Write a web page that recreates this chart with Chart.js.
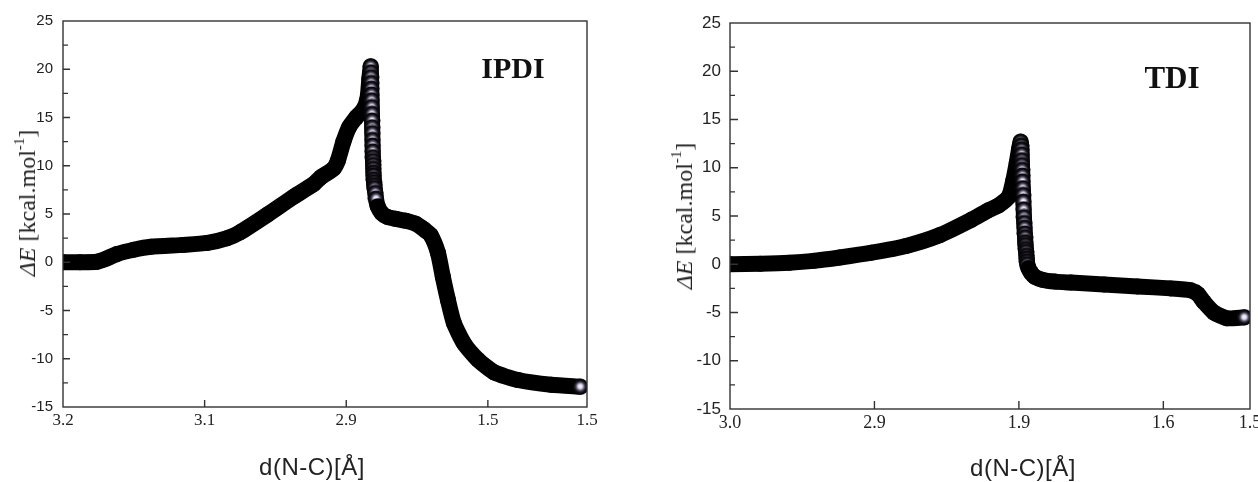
<!DOCTYPE html>
<html><head><meta charset="utf-8">
<script src="https://cdn.jsdelivr.net/npm/chart.js@4/dist/chart.umd.min.js"></script>
<style>
html,body{margin:0;padding:0;background:#fff;width:1258px;height:482px;overflow:hidden;position:relative}
.box{position:absolute;top:0;height:482px}
.ytitle{position:absolute;font-family:'Liberation Serif','Times New Roman',serif;font-size:24px;line-height:1;color:#222;white-space:nowrap;transform:translate(-50%,-50%) rotate(-90deg)}
.ytitle sup{font-size:15px;line-height:0;position:relative;top:-2px}
.xtitle{position:absolute;font-family:'Liberation Sans',Arial,sans-serif;font-size:24px;line-height:1;letter-spacing:0.5px;color:#222;white-space:nowrap;transform:translate(-50%,-50%)}
.tag{position:absolute;font-family:'Liberation Serif','Times New Roman',serif;font-weight:bold;color:#111;white-space:nowrap;transform:translateX(-50%);line-height:1}
</style></head>
<body>
<div class="box" style="left:0;width:640px"><canvas id="cl"></canvas></div>
<div class="box" style="left:640px;width:618px"><canvas id="cr"></canvas></div>
<div class="ytitle" style="left:27px;top:203px"><i>ΔE</i> [kcal.mol<sup>-1</sup>]</div>
<div class="ytitle" style="left:684px;top:216px"><i>ΔE</i> [kcal.mol<sup>-1</sup>]</div>
<div class="xtitle" style="left:312px;top:467px">d(N-C)[Å]</div>
<div class="xtitle" style="left:1023px;top:468px">d(N-C)[Å]</div>
<div class="tag" style="left:513px;top:53px;font-size:30px">IPDI</div>
<div class="tag" style="left:1172px;top:62px;font-size:31px">TDI</div>
<script>
// ---- data ----
const ipdiCoord = [0.00,0.12,0.24,0.31,0.38,0.50,0.62,0.85,1.02,1.16,1.25,1.44,1.63,1.77,1.82,1.91,1.94,1.98,2.02,2.07,2.12,2.15,2.163,2.173,
  2.174,2.175,2.176,2.177,2.178,2.179,2.180,2.181,2.182,2.183,2.184,2.185,2.186,2.187,2.188,2.189,2.190,2.191,2.192,2.193,2.194,2.196,2.198,2.200,
  2.205,2.210,2.222,2.25,2.29,2.35,2.42,2.49,2.55,2.597,2.647,2.682,2.718,2.760,2.831,2.930,3.043,3.213,3.447,3.652];
const ipdiEnergy = [0.0,0.0,0.05,0.4,0.85,1.3,1.6,1.8,2.0,2.5,3.1,4.9,6.8,8.1,8.8,9.7,10.5,12.5,14.0,15.0,15.8,17.0,19.0,20.3,
  19.7,19.2,18.6,18.0,17.4,16.8,16.1,15.4,14.7,14.0,13.4,12.7,12.1,11.5,10.9,10.5,10.1,9.7,9.3,9.0,8.6,8.3,8.0,7.7,
  7.2,6.6,5.8,5.1,4.7,4.5,4.3,4.0,3.4,2.8,1.0,-1.5,-3.9,-6.3,-8.4,-10.1,-11.4,-12.2,-12.7,-12.9];
const ipdiTickAt = [0,1,2,3,3.7];
const ipdiTickLabels = ['3.2','3.1','2.9','1.5','1.5'];

const tdiCoord = [0.00,0.21,0.41,0.58,0.76,0.98,1.22,1.45,1.67,1.79,1.86,1.93,1.96,1.985,2.002,2.012,
  2.016,2.018,2.019,2.020,2.021,2.022,2.024,2.025,2.027,2.029,2.031,2.033,2.035,2.037,2.039,2.041,2.043,2.044,2.046,2.048,2.050,2.052,2.054,2.056,2.058,
  2.066,2.085,2.11,2.16,2.25,2.36,2.59,2.82,3.05,3.19,3.24,3.28,3.35,3.44,3.56];
const tdiEnergy = [0.0,0.05,0.15,0.35,0.7,1.2,1.9,3.0,4.6,5.6,6.1,7.0,8.6,10.5,12.0,12.7,
  12.3,11.9,11.4,10.8,10.3,9.8,9.2,8.6,7.9,7.2,6.5,5.7,4.9,4.3,3.8,3.2,2.8,2.3,2.0,1.6,1.3,0.9,0.6,0.3,0.0,
  -0.4,-0.9,-1.3,-1.6,-1.8,-1.9,-2.1,-2.3,-2.5,-2.7,-3.1,-3.9,-5.0,-5.6,-5.5];
const tdiTickAt = [0,1,2,3,3.6];
const tdiTickLabels = ['3.0','2.9','1.9','1.6','1.5'];

const energyMin = -15, energyMax = 25, energyStep = 2.5, energyLabelStep = 5;

// ---- styling ----
function makeSphere(r){
  const s = Math.ceil(r*2)+1;
  const c = document.createElement('canvas'); c.width = c.height = s;
  const g = c.getContext('2d'); const cx = s/2, cy = s/2;
  const grad = g.createRadialGradient(cx, cy-0.5, 0, cx, cy, r);
  grad.addColorStop(0, '#ffffff');
  grad.addColorStop(0.28, '#d9d5ea');
  grad.addColorStop(0.5, '#5e586e');
  grad.addColorStop(0.72, '#141118');
  grad.addColorStop(1, '#000');
  g.fillStyle = grad; g.beginPath(); g.arc(cx, cy, r, 0, Math.PI*2); g.fill();
  return c;
}
const sphere = makeSphere(8);

function steepAt(xs, ys, i){
  const st = (a,b)=>{ const dx = xs[b]-xs[a], dy = ys[a]-ys[b]; return dx>=0 && dy>0 && dy/Math.max(dx,1e-6) > 90; };
  if (i === xs.length-1) return true;
  if (i>0 && st(i-1,i)) return true;
  if (i<xs.length-1 && st(i,i+1)) return true;
  return false;
}

const framePlugin = {
  id: 'frame',
  afterDraw(chart, args, opts){
    const {ctx, chartArea:a, scales:{x, y}} = chart;
    ctx.save();
    ctx.strokeStyle = '#333'; ctx.lineWidth = 1.4;
    ctx.strokeRect(a.left, a.top, a.right-a.left, a.bottom-a.top);
    ctx.beginPath();
    y.ticks.forEach(t=>{
      const py = y.getPixelForValue(t.value);
      if (py <= a.top+1 || py >= a.bottom-1) return;
      const L = (Math.abs(t.value % energyLabelStep) < 1e-9) ? opts.major : opts.minor;
      ctx.moveTo(a.left, py); ctx.lineTo(a.left+L, py);
    });
    x.ticks.forEach(t=>{
      const px = x.getPixelForValue(t.value);
      if (px <= a.left+1 || px >= a.right-1) return;
      ctx.moveTo(px, a.bottom); ctx.lineTo(px, a.bottom-opts.xlen);
    });
    ctx.stroke();
    ctx.restore();
  }
};

function build(id, xs, ys, tickAt, tickLabels, cfg){
  const pts = xs.map((v,i)=>({x:v, y:ys[i]}));
  return new Chart(document.getElementById(id), {
    type: 'line',
    data: { datasets: [{
      data: pts,
      borderColor: '#000',
      borderWidth: 16,
      borderJoinStyle: 'round',
      borderCapStyle: 'round',
      tension: 0.2,
      pointRadius: 8,
      pointBorderWidth: 0,
      pointBackgroundColor: '#000',
      pointStyle: c => steepAt(xs, ys, c.dataIndex) ? sphere : 'circle',
      clip: 0
    }]},
    options: {
      responsive: true, maintainAspectRatio: false, animation: false,
      events: [],
      layout: { padding: { left: 0, right: cfg.padRight, top: cfg.padTop, bottom: 0 } },
      plugins: { legend: {display:false}, tooltip: {enabled:false}, frame: cfg.ticks },
      scales: {
        x: {
          type: 'linear', min: 0, max: tickAt[tickAt.length-1],
          grid: { display:false, drawTicks:false }, border: { display:false },
          afterBuildTicks: s => { s.ticks = tickAt.map(v=>({value:v})); },
          afterFit: s => { s.height = cfg.xHeight; s.paddingLeft = 0; s.paddingRight = 0; },
          ticks: { autoSkip:false, maxRotation:0, padding: 3, color:'#222',
            font: { family: "'Liberation Serif','Times New Roman',serif", size: cfg.xFont },
            callback: (v, i) => tickLabels[i] }
        },
        y: {
          min: energyMin, max: energyMax,
          grid: { display:false, drawTicks:false }, border: { display:false },
          afterFit: s => { s.width = cfg.yWidth; s.paddingTop = 0; s.paddingBottom = 0; },
          ticks: { stepSize: energyStep, autoSkip:false, padding: cfg.yPad, color:'#222',
            font: { family: "'Liberation Sans',Arial,sans-serif", size: cfg.yFont },
            callback: v => (Math.abs(v % energyLabelStep) < 1e-9) ? String(v) : '' }
        }
      }
    },
    plugins: [framePlugin]
  });
}

build('cl', ipdiCoord, ipdiEnergy, ipdiTickAt, ipdiTickLabels,
  { padRight: 53, padTop: 21, xHeight: 75, yWidth: 63, xFont: 17, yFont: 15, yPad: 10, ticks: {major:7, minor:5, xlen:7} });
build('cr', tdiCoord, tdiEnergy, tdiTickAt, tdiTickLabels,
  { padRight: 5, padTop: 23, xHeight: 73, yWidth: 90, xFont: 18, yFont: 17, yPad: 9, ticks: {major:8, minor:5, xlen:8} });
</script>
</body></html>
